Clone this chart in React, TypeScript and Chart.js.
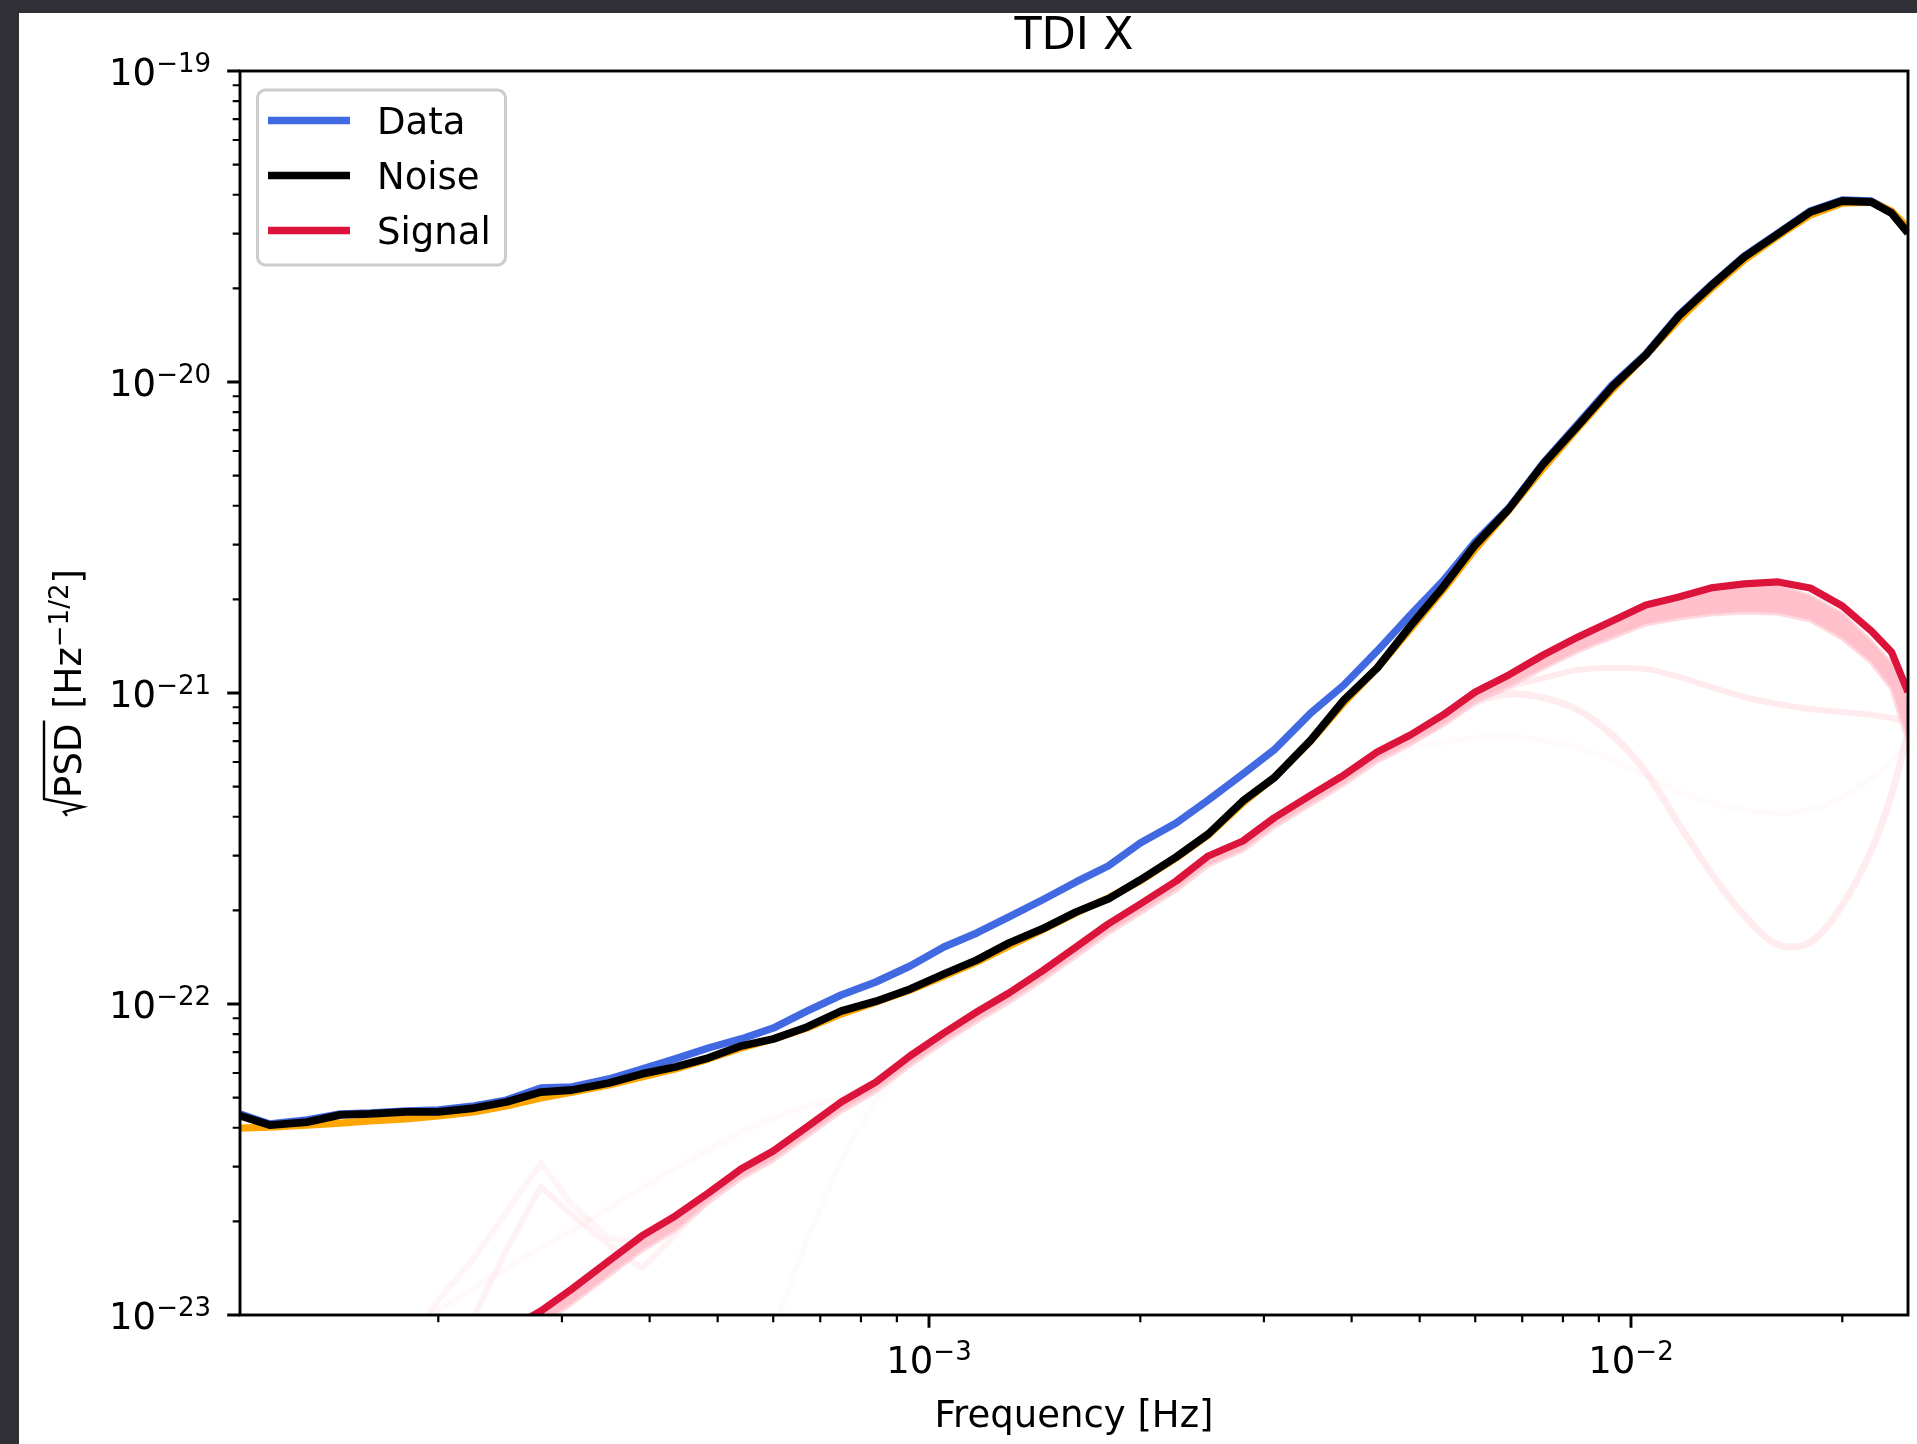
import React, { useEffect, useRef } from 'react';
import { Chart, registerables } from 'chart.js';

Chart.register(...registerables);

// ---------------- data ----------------
const FREQ_HZ = [
  1.044e-4, 1.15e-4, 1.3e-4, 1.45e-4, 1.6e-4, 1.8e-4, 2.0e-4, 2.25e-4, 2.5e-4, 2.8e-4,
  3.1e-4, 3.5e-4, 3.9e-4, 4.35e-4, 4.85e-4, 5.4e-4, 6.0e-4, 6.7e-4, 7.5e-4, 8.4e-4,
  9.4e-4, 1.05e-3, 1.17e-3, 1.3e-3, 1.45e-3, 1.62e-3, 1.8e-3, 2.0e-3, 2.25e-3, 2.5e-3,
  2.8e-3, 3.1e-3, 3.5e-3, 3.9e-3, 4.35e-3, 4.85e-3, 5.4e-3, 6.0e-3, 6.7e-3, 7.5e-3,
  8.4e-3, 9.4e-3, 1.05e-2, 1.17e-2, 1.3e-2, 1.45e-2, 1.62e-2, 1.8e-2, 2.0e-2, 2.2e-2,
  2.35e-2, 2.481e-2,
];

const DATA_PSD = [
  4.43e-23, 4.11e-23, 4.24e-23, 4.43e-23, 4.46e-23, 4.53e-23, 4.56e-23, 4.70e-23, 4.91e-23, 5.37e-23,
  5.41e-23, 5.74e-23, 6.18e-23, 6.66e-23, 7.22e-23, 7.72e-23, 8.37e-23, 9.49e-23, 1.069e-22, 1.177e-22,
  1.325e-22, 1.525e-22, 1.692e-22, 1.905e-22, 2.16e-22, 2.468e-22, 2.778e-22, 3.294e-22, 3.819e-22, 4.529e-22,
  5.489e-22, 6.556e-22, 8.626e-22, 1.061e-21, 1.365e-21, 1.781e-21, 2.292e-21, 3.059e-21, 3.934e-21, 5.489e-21,
  7.328e-21, 9.78e-21, 1.23e-20, 1.642e-20, 2.05e-20, 2.542e-20, 3.014e-20, 3.547e-20, 3.847e-20, 3.819e-20,
  3.521e-20, 3.036e-20,
];

const NOISE_PSD = [
  4.37e-23, 4.08e-23, 4.17e-23, 4.40e-23, 4.43e-23, 4.50e-23, 4.50e-23, 4.63e-23, 4.84e-23, 5.21e-23,
  5.29e-23, 5.57e-23, 5.96e-23, 6.27e-23, 6.71e-23, 7.33e-23, 7.72e-23, 8.43e-23, 9.49e-23, 1.02e-22,
  1.117e-22, 1.249e-22, 1.385e-22, 1.571e-22, 1.743e-22, 1.976e-22, 2.176e-22, 2.505e-22, 2.97e-22, 3.521e-22,
  4.496e-22, 5.33e-22, 7.06e-22, 9.495e-22, 1.203e-21, 1.642e-21, 2.193e-21, 2.992e-21, 3.905e-21, 5.449e-21,
  7.22e-21, 9.64e-21, 1.221e-20, 1.63e-20, 2.035e-20, 2.523e-20, 2.992e-20, 3.521e-20, 3.819e-20, 3.791e-20,
  3.495e-20, 3.014e-20,
];

const NOISE_MODEL = [
  3.99e-23, 4.02e-23, 4.08e-23, 4.14e-23, 4.21e-23, 4.27e-23, 4.37e-23, 4.50e-23, 4.70e-23, 4.99e-23,
  5.21e-23, 5.49e-23, 5.83e-23, 6.18e-23, 6.66e-23, 7.22e-23, 7.72e-23, 8.37e-23, 9.29e-23, 1.015e-22,
  1.109e-22, 1.23e-22, 1.365e-22, 1.536e-22, 1.73e-22, 1.962e-22, 2.193e-22, 2.486e-22, 2.948e-22, 3.495e-22,
  4.43e-22, 5.33e-22, 7.01e-22, 9.29e-22, 1.203e-21, 1.606e-21, 2.144e-21, 2.904e-21, 3.876e-21, 5.29e-21,
  7.113e-21, 9.43e-21, 1.221e-20, 1.583e-20, 1.991e-20, 2.468e-20, 2.948e-20, 3.443e-20, 3.763e-20, 3.791e-20,
  3.547e-20, 3.127e-20,
];

const SIGNAL_PSD = [
  null, null, null, null, null, null, 6.41e-24, 7.60e-24, 8.88e-24, 1.03e-23,
  1.212e-23, 1.492e-23, 1.795e-23, 2.081e-23, 2.468e-23, 2.948e-23, 3.368e-23, 4.02e-23, 4.84e-23, 5.61e-23,
  6.81e-23, 8.07e-23, 9.43e-23, 1.085e-22, 1.277e-22, 1.525e-22, 1.808e-22, 2.097e-22, 2.486e-22, 2.992e-22,
  3.343e-22, 3.964e-22, 4.70e-22, 5.449e-22, 6.46e-22, 7.328e-22, 8.50e-22, 1.007e-21, 1.143e-21, 1.325e-21,
  1.513e-21, 1.704e-21, 1.919e-21, 2.035e-21, 2.176e-21, 2.242e-21, 2.275e-21, 2.176e-21, 1.905e-21, 1.583e-21,
  1.355e-21, 1.007e-21,
];

const POSTERIOR_UPPER = [
  null, null, null, null, null, null, 6.22e-24, 7.38e-24, 8.62e-24, 1.0e-23,
  1.177e-23, 1.449e-23, 1.743e-23, 2.021e-23, 2.396e-23, 2.862e-23, 3.27e-23, 3.90e-23, 4.70e-23, 5.45e-23,
  6.61e-23, 7.84e-23, 9.16e-23, 1.054e-22, 1.24e-22, 1.481e-22, 1.756e-22, 2.036e-22, 2.414e-22, 2.905e-22,
  3.246e-22, 3.849e-22, 4.56e-22, 5.291e-22, 6.273e-22, 7.115e-22, 8.25e-22, 9.78e-22, 1.11e-21, 1.287e-21,
  1.469e-21, 1.655e-21, 1.863e-21, 1.976e-21, 2.113e-21, 2.177e-21, 2.209e-21, 2.05e-21, 1.795e-21, 1.459e-21,
  1.24e-21, 9.36e-22,
];

const POSTERIOR_LOWER = [
  null, null, null, null, null, null, 5.78e-24, 6.85e-24, 8.01e-24, 9.29e-24,
  1.093e-23, 1.345e-23, 1.618e-23, 1.876e-23, 2.309e-23, 2.758e-23, 3.151e-23, 3.761e-23, 4.528e-23, 5.249e-23,
  6.371e-23, 7.55e-23, 8.823e-23, 1.015e-22, 1.195e-22, 1.427e-22, 1.692e-22, 1.962e-22, 2.326e-22, 2.799e-22,
  3.128e-22, 3.709e-22, 4.397e-22, 5.098e-22, 6.044e-22, 6.856e-22, 7.953e-22, 9.42e-22, 1.053e-21, 1.203e-21,
  1.365e-21, 1.513e-21, 1.667e-21, 1.743e-21, 1.795e-21, 1.822e-21, 1.808e-21, 1.717e-21, 1.502e-21, 1.258e-21,
  1.038e-21, 7.06e-22,
];

const SAMPLE_FLAT = [
  null, null, null, null, null, null, null, null, null, null,
  null, null, null, null, null, null, null, null, null, null,
  null, null, null, null, null, null, null, null, null, null,
  null, null, null, null, null, 7.06e-22, 8.07e-22, 9.36e-22, 1.045e-21, 1.117e-21,
  1.186e-21, 1.203e-21, 1.195e-21, 1.126e-21, 1.045e-21, 9.71e-22, 9.22e-22, 8.88e-22, 8.69e-22, 8.50e-22,
  8.31e-22, 8.07e-22,
];

const SAMPLE_DIP = [
  null, null, null, null, null, null, null, null, null, null,
  null, null, null, null, null, null, null, null, null, null,
  null, null, null, null, null, null, null, null, null, null,
  null, null, null, null, null, 6.96e-22, 7.95e-22, 9.29e-22, 9.93e-22, 9.64e-22,
  8.82e-22, 7.33e-22, 5.57e-22, 3.79e-22, 2.64e-22, 1.93e-22, 1.55e-22, 1.58e-22, 2.08e-22, 3.13e-22,
  4.70e-22, 7.44e-22,
];

const SAMPLE_SHALLOW = [
  null, null, null, null, null, null, null, null, null, null,
  null, null, null, null, null, null, null, null, null, null,
  null, null, null, null, null, null, null, null, null, null,
  null, null, null, null, 6.09e-22, 6.66e-22, 6.96e-22, 7.17e-22, 7.22e-22, 7.06e-22,
  6.66e-22, 6.09e-22, 5.45e-22, 4.81e-22, 4.43e-22, 4.21e-22, 4.11e-22, 4.21e-22, 4.63e-22, 5.33e-22,
  6.09e-22, 7.06e-22,
];

const SAMPLE_BUMP_A = [
  null, null, null, null, null, 8.0e-24, 1.117e-23, 1.525e-23, 2.144e-23, 3.082e-23,
  2.258e-23, 1.769e-23, 1.704e-23, 1.991e-23, null, null, null, null, null, null,
  null, null, null, null, null, null, null, null, null, null,
  null, null, null, null, null, null, null, null, null, null,
  null, null, null, null, null, null, null, null, null, null,
  null, null,
];

const SAMPLE_BUMP_B = [
  null, null, null, null, null, null, 6.66e-24, 9.93e-24, 1.618e-23, 2.58e-23,
  2.097e-23, 1.679e-23, 1.416e-23, 1.808e-23, 2.343e-23, null, null, null, null, null,
  null, null, null, null, null, null, null, null, null, null,
  null, null, null, null, null, null, null, null, null, null,
  null, null, null, null, null, null, null, null, null, null,
  null, null,
];

const SAMPLE_EARLY = [
  null, null, null, null, null, 8.95e-24, 1.037e-23, 1.221e-23, 1.416e-23, 1.642e-23,
  1.876e-23, 2.209e-23, 2.561e-23, 2.97e-23, 3.393e-23, 3.876e-23, 4.30e-23, 4.70e-23, 4.99e-23, 5.61e-23,
  null, null, null, null, null, null, null, null, null, null,
  null, null, null, null, null, null, null, null, null, null,
  null, null, null, null, null, null, null, null, null, null,
  null, null,
];

const SAMPLE_STEEP = [
  null, null, null, null, null, null, null, null, null, null,
  null, null, null, null, null, null, 8.95e-24, 1.743e-23, 3.15e-23, 4.91e-23,
  6.51e-23, null, null, null, null, null, null, null, null, null,
  null, null, null, null, null, null, null, null, null, null,
  null, null, null, null, null, null, null, null, null, null,
  null, null,
];

// axis ranges and ticks
const X_MIN = 1.0436e-4;
const X_MAX = 2.481e-2;
const Y_MIN = 1e-23;
const Y_MAX = 1e-19;
const X_MAJOR_TICKS = [1e-3, 1e-2];
const X_MAJOR_EXPONENTS = ['\u22123', '\u22122'];
const Y_MAJOR_TICKS = [1e-23, 1e-22, 1e-21, 1e-20, 1e-19];
const Y_MAJOR_EXPONENTS = ['\u221223', '\u221222', '\u221221', '\u221220', '\u221219'];
const MINOR_MANTISSAS = [2, 3, 4, 5, 6, 7, 8, 9];
const X_MINOR_DECADES = [1e-4, 1e-3, 1e-2];
const Y_MINOR_DECADES = [1e-23, 1e-22, 1e-21, 1e-20];

const LEGEND_LABELS = ['Data', 'Noise', 'Signal'];
const LEGEND_COLORS = ['#4169E1', '#000000', '#DC143C'];

const TITLE = 'TDI X';
const X_LABEL = 'Frequency [Hz]';

// ---------------- helpers ----------------
const pts = (arr: (number | null)[]) => FREQ_HZ.map((f, i) => ({ x: f, y: arr[i] }));

const FONT = '"DejaVu Sans", "Liberation Sans", sans-serif';
const MAIN = `37px ${FONT}`;
const SUP = `26px ${FONT}`;

function drawPower(ctx: CanvasRenderingContext2D, exp: string, x: number, baseline: number, align: 'right' | 'center') {
  ctx.font = MAIN;
  const wBase = ctx.measureText('10').width;
  ctx.font = SUP;
  const wExp = ctx.measureText(exp).width;
  const total = wBase + wExp;
  const start = align === 'right' ? x - total : x - total / 2;
  ctx.textAlign = 'left';
  ctx.textBaseline = 'alphabetic';
  ctx.font = MAIN;
  ctx.fillText('10', start, baseline);
  ctx.font = SUP;
  ctx.fillText(exp, start + wBase, baseline - 13);
}

const decorPlugin = {
  id: 'decor',
  beforeDraw(chart: any) {
    const ctx = chart.ctx as CanvasRenderingContext2D;
    ctx.save();
    ctx.fillStyle = '#303036';
    ctx.fillRect(0, 0, chart.width, chart.height);
    ctx.fillStyle = '#ffffff';
    ctx.fillRect(19, 13, chart.width - 19, chart.height - 13);
    ctx.restore();
  },
  afterDraw(chart: any) {
    const ctx = chart.ctx as CanvasRenderingContext2D;
    const { left, right, top, bottom } = chart.chartArea;
    const xs = chart.scales.x;
    const ys = chart.scales.y;
    ctx.save();
    ctx.strokeStyle = '#000';
    ctx.fillStyle = '#000';

    // frame
    ctx.lineWidth = 2.9;
    ctx.strokeRect(left, top, right - left, bottom - top);

    // ticks
    const majorLen = 12.8;
    const minorLen = 7.3;
    ctx.lineCap = 'butt';
    ctx.lineWidth = 2.9;
    ctx.beginPath();
    X_MAJOR_TICKS.forEach((v) => {
      const px = xs.getPixelForValue(v);
      ctx.moveTo(px, bottom);
      ctx.lineTo(px, bottom + majorLen);
    });
    Y_MAJOR_TICKS.forEach((v) => {
      const py = ys.getPixelForValue(v);
      ctx.moveTo(left, py);
      ctx.lineTo(left - majorLen, py);
    });
    ctx.stroke();
    ctx.lineWidth = 2.2;
    ctx.beginPath();
    X_MINOR_DECADES.forEach((d) =>
      MINOR_MANTISSAS.forEach((m) => {
        const v = m * d;
        if (v < X_MIN || v > X_MAX) return;
        const px = xs.getPixelForValue(v);
        ctx.moveTo(px, bottom);
        ctx.lineTo(px, bottom + minorLen);
      })
    );
    Y_MINOR_DECADES.forEach((d) =>
      MINOR_MANTISSAS.forEach((m) => {
        const py = ys.getPixelForValue(m * d);
        ctx.moveTo(left, py);
        ctx.lineTo(left - minorLen, py);
      })
    );
    ctx.stroke();

    // tick labels
    X_MAJOR_TICKS.forEach((v, i) => {
      const px = xs.getPixelForValue(v);
      drawPower(ctx, X_MAJOR_EXPONENTS[i], px, 1373, 'center');
    });
    Y_MAJOR_TICKS.forEach((v, i) => {
      const py = ys.getPixelForValue(v);
      drawPower(ctx, Y_MAJOR_EXPONENTS[i], 211, py + 13.5, 'right');
    });

    // x label
    ctx.font = MAIN;
    ctx.textAlign = 'center';
    ctx.textBaseline = 'alphabetic';
    ctx.fillText(X_LABEL, (left + right) / 2, 1427);

    // title
    ctx.font = `44.5px ${FONT}`;
    ctx.fillText(TITLE, (left + right) / 2, 49);

    // y label: sqrt(PSD) [Hz^-1/2]
    ctx.save();
    ctx.translate(81, (top + bottom) / 2);
    ctx.rotate(-Math.PI / 2);
    ctx.font = MAIN;
    const wPSD = ctx.measureText('PSD').width;
    const wOpen = ctx.measureText(' [Hz').width;
    const wClose = ctx.measureText(']').width;
    ctx.font = SUP;
    const wSup = ctx.measureText('\u22121/2').width;
    const radW = 19;
    const total = radW + wPSD + 3 + wOpen + wSup + wClose;
    let x = -total / 2;
    ctx.lineWidth = 2.4;
    ctx.lineJoin = 'miter';
    ctx.beginPath();
    ctx.moveTo(x + 1, -14);
    ctx.lineTo(x + 5, -17);
    ctx.lineTo(x + 10, 2);
    ctx.lineTo(x + radW - 1, -37);
    ctx.lineTo(x + radW + wPSD + 3, -37);
    ctx.stroke();
    x += radW;
    ctx.textAlign = 'left';
    ctx.font = MAIN;
    ctx.fillText('PSD', x, 0);
    x += wPSD + 3;
    ctx.fillText(' [Hz', x, 0);
    x += wOpen;
    ctx.font = SUP;
    ctx.fillText('\u22121/2', x, -13);
    x += wSup;
    ctx.font = MAIN;
    ctx.fillText(']', x, 0);
    ctx.restore();

    // legend
    const bx = 257.5, by = 90, bw = 248, bh = 175;
    ctx.fillStyle = 'rgba(255,255,255,0.8)';
    ctx.strokeStyle = '#cccccc';
    ctx.lineWidth = 3;
    ctx.beginPath();
    (ctx as any).roundRect(bx, by, bw, bh, 8);
    ctx.fill();
    ctx.stroke();
    LEGEND_LABELS.forEach((lab, i) => {
      const ry = 120.5 + i * 55;
      ctx.strokeStyle = LEGEND_COLORS[i];
      ctx.lineWidth = 7.3;
      ctx.beginPath();
      ctx.moveTo(268, ry);
      ctx.lineTo(350, ry);
      ctx.stroke();
      ctx.fillStyle = '#000';
      ctx.font = MAIN;
      ctx.textAlign = 'left';
      ctx.fillText(lab, 377, ry + 13);
    });

    ctx.restore();
  },
};

export default function App() {
  const ref = useRef<HTMLCanvasElement | null>(null);

  useEffect(() => {
    document.body.style.margin = '0';
    document.body.style.background = '#303036';
    const canvas = ref.current;
    if (!canvas) return;
    const base = {
      pointRadius: 0,
      pointHoverRadius: 0,
      tension: 0,
      borderJoinStyle: 'round' as const,
      borderCapStyle: 'butt' as const,
      clip: 0,
      fill: false,
      spanGaps: false,
    };
    const pink = (a: number) => `rgba(255,192,203,${a})`;
    const chart = new Chart(canvas, {
      type: 'line',
      data: {
        datasets: [
          { ...base, label: 'Signal', data: pts(SIGNAL_PSD), borderColor: '#DC143C', borderWidth: 7.3, order: 0 },
          { ...base, label: 'Noise', data: pts(NOISE_PSD), borderColor: '#000000', borderWidth: 7.8, order: 1 },
          { ...base, label: 'Noise model', data: pts(NOISE_MODEL), borderColor: '#FFA500', borderWidth: 7.3, order: 2 },
          { ...base, label: 'Data', data: pts(DATA_PSD), borderColor: '#4169E1', borderWidth: 7.5, order: 3 },
          { ...base, label: 'Posterior upper', data: pts(POSTERIOR_UPPER), borderColor: pink(0.7), borderWidth: 4, order: 4 },
          {
            ...base,
            label: 'Posterior lower',
            data: pts(POSTERIOR_LOWER),
            borderColor: pink(0.6),
            borderWidth: 5,
            backgroundColor: pink(1),
            fill: '-1',
            order: 5,
          },
          { ...base, label: 'Sample flat', data: pts(SAMPLE_FLAT), borderColor: pink(0.32), borderWidth: 6, tension: 0.35, order: 6 },
          { ...base, label: 'Sample dip', data: pts(SAMPLE_DIP), borderColor: pink(0.3), borderWidth: 7, tension: 0.35, order: 7 },
          { ...base, label: 'Sample shallow', data: pts(SAMPLE_SHALLOW), borderColor: pink(0.06), borderWidth: 6, tension: 0.35, order: 8 },
          { ...base, label: 'Sample bump A', data: pts(SAMPLE_BUMP_A), borderColor: pink(0.18), borderWidth: 6, order: 9 },
          { ...base, label: 'Sample bump B', data: pts(SAMPLE_BUMP_B), borderColor: pink(0.2), borderWidth: 6, order: 10 },
          { ...base, label: 'Sample early', data: pts(SAMPLE_EARLY), borderColor: pink(0.1), borderWidth: 6, order: 11 },
          { ...base, label: 'Sample steep', data: pts(SAMPLE_STEEP), borderColor: pink(0.08), borderWidth: 6, order: 12 },
        ],
      },
      options: {
        animation: false,
        responsive: false,
        devicePixelRatio: 1,
        events: [],
        layout: { padding: { left: 240, top: 71, right: 9, bottom: 129 } },
        plugins: {
          legend: { display: false },
          title: { display: false },
          tooltip: { enabled: false },
        },
        scales: {
          x: { type: 'logarithmic', min: X_MIN, max: X_MAX, bounds: 'data', display: false },
          y: { type: 'logarithmic', min: Y_MIN, max: Y_MAX, bounds: 'data', display: false },
        },
      },
      plugins: [decorPlugin],
    } as any);
    return () => chart.destroy();
  }, []);

  return (
    <div style={{ position: 'absolute', left: 0, top: 0, width: 1917, height: 1444 }}>
      <canvas ref={ref} width={1917} height={1444} style={{ display: 'block', width: 1917, height: 1444 }} />
    </div>
  );
}
